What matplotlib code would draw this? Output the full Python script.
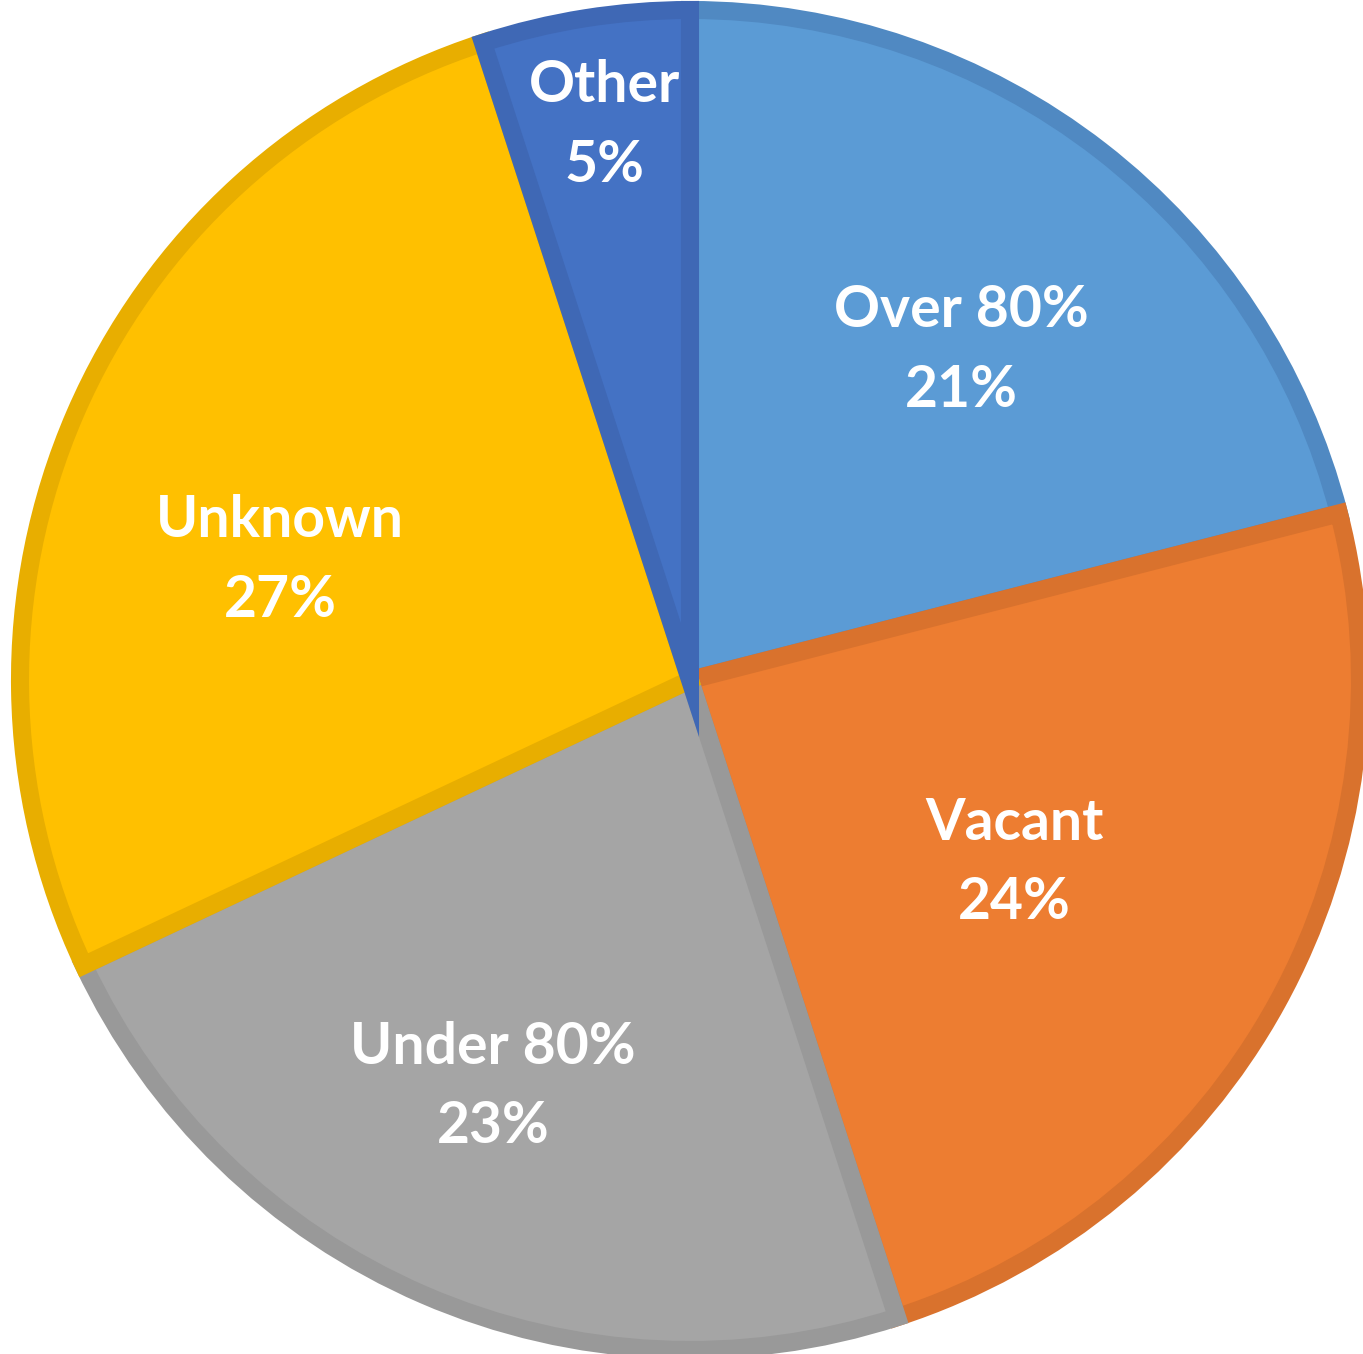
import numpy as np
import matplotlib.pyplot as plt

labels = ['Over 80%', 'Vacant', 'Under 80%', 'Unknown', 'Other']
shares = [21, 24, 23, 27, 5]
colors = ['#5B9BD5', '#ED7D31', '#A5A5A5', '#FFC000', '#4472C4']
edges = ['#5089C2', '#D9722D', '#999999', '#E8AE00', '#3F68B5']

# label placement (fraction of radius, angle in degrees), Excel "best fit"
label_r = [0.637, 0.556, 0.675, 0.637, 0.837]
label_ang = [50.5, -29.4, -115.8, 163.7, 98.8]

W, H = 1363, 1354
fig = plt.figure(figsize=(W / 100, H / 100), dpi=100)
ax = fig.add_axes([0, 0, 1, 1])

R = 670
cx, cy = 690, 680
wedges, _ = ax.pie(shares, colors=colors, startangle=90, counterclock=False,
                   radius=1, wedgeprops=dict(linewidth=13))
for w, ec in zip(wedges, edges):
    w.set_edgecolor(ec)
    w.set_clip_path(w)

for lab, val, r, a in zip(labels, shares, label_r, label_ang):
    a = np.deg2rad(a)
    ax.text(r * np.cos(a), r * np.sin(a), f'{lab}\n{val}%',
            ha='center', va='center', color='white', fontsize=41,
            fontweight='bold', family='Lato', linespacing=1.62)

ax.set_xlim(-cx / R, (W - cx) / R)
ax.set_ylim(-(H - cy) / R, cy / R)
ax.set_aspect('equal')
ax.axis('off')

fig.savefig('out.png', dpi=100)
